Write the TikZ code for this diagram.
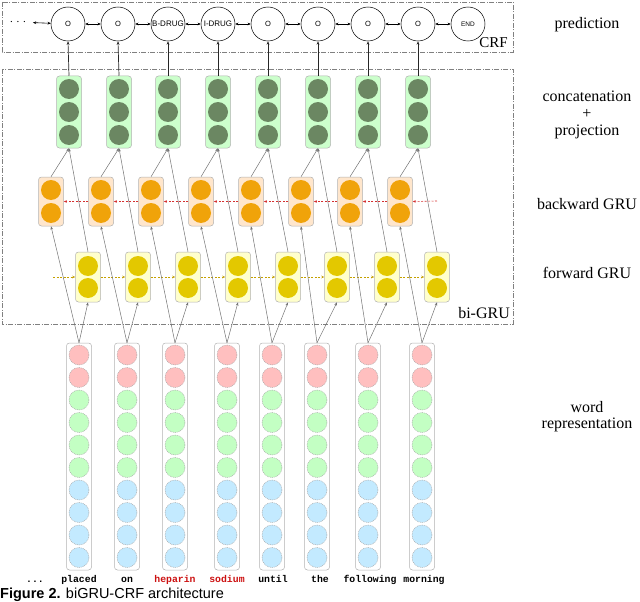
\documentclass[tikz,border=0pt]{standalone}
\usepackage{fontspec}
\setmainfont{Liberation Serif}
\newfontfamily\sansf{Liberation Sans}
\newfontfamily\monof{Liberation Mono}
\usetikzlibrary{arrows.meta}
\definecolor{dkgreen}{HTML}{6B8762}
\definecolor{greenbox}{HTML}{CCFFCC}
\definecolor{orangec}{HTML}{F0A30A}
\definecolor{orangebox}{HTML}{FFE6CC}
\definecolor{yellowc}{HTML}{E3C800}
\definecolor{yellowbox}{HTML}{FFFFCC}
\definecolor{pinkc}{HTML}{FFBFBF}
\definecolor{greenc}{HTML}{C3FFC3}
\definecolor{bluec}{HTML}{C3EAFF}
\definecolor{fwdarrow}{HTML}{C4A000}
\definecolor{bwdarrow}{HTML}{D43030}
\definecolor{wordred}{HTML}{CC1111}
\tikzset{
  layerbox/.style={draw=gray!60, rounded corners=3pt, minimum width=25pt, inner sep=0pt, line width=0.5pt},
  unit/.style={circle, minimum size=20pt, inner sep=0pt},
  wunit/.style={unit, draw=gray!70, dash pattern=on 1pt off 0.8pt, line width=0.4pt},
  crfnode/.style={circle, draw=black, line width=0.5pt, minimum size=34pt, inner sep=0pt, fill=white},
  conn/.style={draw=gray!90!black, line width=0.5pt, -{Stealth[length=3.5pt,width=2.6pt]}},
  crfup/.style={draw=black!85, line width=0.7pt, -{Stealth[length=3.5pt,width=2.8pt]}},
  crflink/.style={draw=black, line width=0.6pt, {Stealth[length=3.2pt,width=2.8pt]}-{Stealth[length=3.2pt,width=2.8pt]}},
  fwd/.style={draw=fwdarrow, line width=0.6pt, dash pattern=on 2pt off 1.5pt, -{Stealth[length=3pt,width=2.5pt]}},
  bwd/.style={draw=bwdarrow, line width=0.6pt, dash pattern=on 2pt off 1.5pt, -{Stealth[length=3pt,width=2.5pt]}},
  groupbox/.style={draw=gray, line width=0.7pt, dash pattern=on 5pt off 1.5pt on 1pt off 1.5pt},
  sidelabel/.style={font=\fontsize{16}{19}\selectfont, anchor=base, inner sep=0pt},
  wordlabel/.style={font=\monof\bfseries\fontsize{9.8}{11}\selectfont, anchor=base, inner sep=0pt},
}
\begin{document}
\begin{tikzpicture}[x=1pt,y=-1pt]
\useasboundingbox (0,0) rectangle (640,602);
% group boxes
\draw[groupbox] (2,2) rectangle (513,52);
\draw[groupbox] (2,69) rectangle (513,324);
\node[font=\fontsize{15}{17}\selectfont, anchor=base east, inner sep=0pt] (crflabel) at (508,48) {CRF};
\node[font=\fontsize{16}{18}\selectfont, anchor=base east, inner sep=0pt] (bigrulabel) at (510,318) {bi-GRU};
% CRF layer
\foreach \x/\t/\s [count=\i from 0] in {68/O/7.5,118/O/7.5,168/B-DRUG/8,218/I-DRUG/8,268/O/7.5,318/O/7.5,368/O/7.5,418/O/7.5,468/END/6.5}
  \node[crfnode, font=\sansf\fontsize{\s}{\s}\selectfont] (p\i) at (\x,24) {\t};
\node[font=\fontsize{11}{11}\selectfont, inner sep=1pt] (dots) at (18,22) {.\,\,.\,\,.};
\draw[crflink, shorten <=6pt] (dots) -- (p0);
\foreach \i [evaluate=\i as \j using int(\i+1)] in {0,...,7}
  \draw[crflink] (p\i) -- (p\j);
% concatenation + projection
\foreach \x [count=\i from 0] in {69,119,168,218,268,318,368,418} {
  \node[layerbox, fill=greenbox, minimum height=72pt] (c\i) at (\x,112) {};
  \foreach \y in {89,112,135}
    \node[unit, fill=dkgreen] at (\x,\y) {};
}
% backward GRU
\foreach \x [count=\i from 0] in {51,101,151,201,251,301,350,400} {
  \node[layerbox, fill=orangebox, minimum height=49pt] (b\i) at (\x,201.5) {};
  \foreach \y in {190,213}
    \node[unit, fill=orangec] at (\x,\y) {};
}
% forward GRU
\foreach \x [count=\i from 0] in {88,138,188,238,288,337,387,437} {
  \node[layerbox, fill=yellowbox, minimum height=50pt] (f\i) at (\x,277) {};
  \foreach \y in {266,288}
    \node[unit, fill=yellowc] at (\x,\y) {};
}
% word representation
\foreach \x [count=\i from 0] in {79,127,175,227,272,317,368,422} {
  \node[layerbox, fill=white, minimum height=227pt] (w\i) at (\x,456.5) {};
  \foreach \k in {0,1}
    \node[wunit, fill=pinkc] at (\x,355+22.5*\k) {};
  \foreach \k in {2,...,5}
    \node[wunit, fill=greenc] at (\x,355+22.5*\k) {};
  \foreach \k in {6,...,9}
    \node[wunit, fill=bluec] at (\x,355+22.5*\k) {};
}
% recurrent arrows
\coordinate (fin) at (53,277);
\draw[fwd] (fin) -- (f0.west);
\foreach \i [evaluate=\i as \j using int(\i+1)] in {0,...,6}
  \draw[fwd] (f\i.east) -- (f\j.west);
\coordinate (bin) at (437,201);
\draw[bwd] (bin) -- (b7.east);
\foreach \i [evaluate=\i as \j using int(\i+1)] in {0,...,6}
  \draw[bwd] (b\j.west) -- (b\i.east);
% connections
\foreach \i in {0,...,7} {
  \draw[conn] (w\i.north) -- (f\i.south);
  \draw[conn] (w\i.north) -- (b\i.south);
  \draw[conn] (f\i.north) -- (c\i.south);
  \draw[conn] (b\i.north) -- (c\i.south);
  \draw[crfup] (c\i.north) -- (p\i.south);
}
% word labels
\node[wordlabel] (l0) at (35,582) {...};
\foreach \x/\t/\c [count=\i from 1] in {79/placed/black,127/on/black,175/heparin/wordred,227/sodium/wordred,273/until/black,320/the/black,370/following/black,424/morning/black}
  \node[wordlabel, text=\c] (l\i) at (\x,582) {\t};
% side labels
\node[sidelabel] (s1) at (587,28.5) {prediction};
\node[sidelabel] (s2) at (587,101) {concatenation};
\node[sidelabel] (s3) at (587,118) {+};
\node[sidelabel] (s4) at (587,135) {projection};
\node[sidelabel] (s5) at (587,209) {backward GRU};
\node[sidelabel] (s6) at (587,278) {forward GRU};
\node[sidelabel] (s7) at (587,412) {word};
\node[sidelabel] (s8) at (587,428.5) {representation};
% caption
\node[font=\sansf\fontsize{14.5}{16}\selectfont, anchor=base west, inner sep=0pt] (cap) at (0,598.5) {\textbf{Figure 2.} biGRU-CRF architecture};
\end{tikzpicture}
\end{document}
